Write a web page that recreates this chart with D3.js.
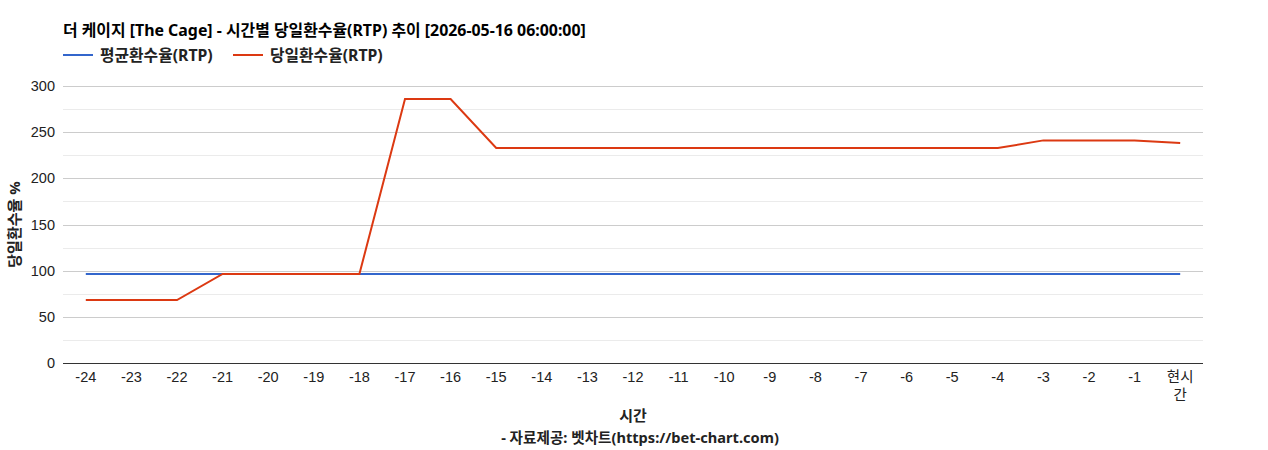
<!DOCTYPE html>
<html>
<head>
<meta charset="utf-8">
<script src="https://cdn.jsdelivr.net/npm/d3@7"></script>
<style>
  body { margin: 0; background: #fff; }
  text { font-family: Arial, "Liberation Sans", "Noto Sans CJK KR", sans-serif; }
  .bold { font-family: "Noto Sans", "Noto Sans CJK KR", sans-serif; font-weight: bold; }
</style>
</head>
<body>
<script>
var hours = ["-24","-23","-22","-21","-20","-19","-18","-17","-16","-15","-14","-13",
             "-12","-11","-10","-9","-8","-7","-6","-5","-4","-3","-2","-1","현시간"];
var avgRtp = [96.4,96.4,96.4,96.4,96.4,96.4,96.4,96.4,96.4,96.4,96.4,96.4,
              96.4,96.4,96.4,96.4,96.4,96.4,96.4,96.4,96.4,96.4,96.4,96.4,96.4];
var dayRtp = [68.2,68.2,68.2,96.4,96.4,96.4,96.4,285.9,285.9,232.8,232.8,232.8,
              232.8,232.8,232.8,232.8,232.8,232.8,232.8,232.8,232.8,241.1,241.1,241.1,238.3];
var yTicks = [0,50,100,150,200,250,300];

(function() {
    var W = 1268, H = 450;
    var pLeft = 63, pRight = 1203, pTop = 86, pBottom = 363;

    var svg = d3.select("body").append("svg")
        .attr("width", W)
        .attr("height", H);

    var x = d3.scalePoint().domain(hours).range([pLeft, pRight]).padding(0.5);
    var y = d3.scaleLinear().domain([0, 300]).range([pBottom, pTop]);

    // minor gridlines
    svg.selectAll(".minor")
        .data(d3.range(25, 300, 50))
        .enter().append("line")
        .attr("x1", pLeft).attr("x2", pRight)
        .attr("y1", function(d) { return Math.round(y(d)) + 0.5; })
        .attr("y2", function(d) { return Math.round(y(d)) + 0.5; })
        .style("stroke", "#ebebeb");

    // major gridlines
    svg.selectAll(".major")
        .data(yTicks.slice(1))
        .enter().append("line")
        .attr("x1", pLeft).attr("x2", pRight)
        .attr("y1", function(d) { return Math.round(y(d)) + 0.5; })
        .attr("y2", function(d) { return Math.round(y(d)) + 0.5; })
        .style("stroke", "#cccccc");

    // y labels
    svg.selectAll(".ylab")
        .data(yTicks)
        .enter().append("text")
        .attr("x", pLeft - 8)
        .attr("y", function(d) { return y(d) + 5; })
        .attr("text-anchor", "end")
        .style("font-size", "14.5px")
        .style("fill", "#222")
        .text(function(d) { return d; });

    // x labels
    hours.forEach(function(h) {
        var t = svg.append("text")
            .attr("x", x(h))
            .attr("y", 382)
            .attr("text-anchor", "middle")
            .style("font-size", "14.5px")
            .style("fill", "#222");
        if (h === "현시간") {
            t.append("tspan").attr("x", x(h)).attr("dy", 0).text("현시");
            t.append("tspan").attr("x", x(h)).attr("dy", 18).text("간");
        } else {
            t.text(h);
        }
    });

    var line = d3.line()
        .x(function(d, i) { return x(hours[i]); })
        .y(function(d) { return y(d); });

    svg.append("path")
        .datum(avgRtp)
        .attr("d", line)
        .style("fill", "none")
        .style("stroke", "#3366cc")
        .style("stroke-width", 2);

    svg.append("path")
        .datum(dayRtp)
        .attr("d", line)
        .style("fill", "none")
        .style("stroke", "#dc3912")
        .style("stroke-width", 2);

    // baseline
    svg.append("line")
        .attr("x1", pLeft).attr("x2", pRight)
        .attr("y1", Math.round(y(0)) + 0.5).attr("y2", Math.round(y(0)) + 0.5)
        .style("stroke", "#333");

    // title
    svg.append("text")
        .attr("class", "bold")
        .attr("x", pLeft)
        .attr("y", 36)
        .style("font-size", "15.9px")
        .style("fill", "#000")
        .text("더 케이지 [The Cage] - 시간별 당일환수율(RTP) 추이 [2026-05-16 06:00:00]");

    // legend
    var legend = [["평균환수율(RTP)", "#3366cc", 63], ["당일환수율(RTP)", "#dc3912", 233]];
    legend.forEach(function(l) {
        svg.append("line")
            .attr("x1", l[2]).attr("x2", l[2] + 30)
            .attr("y1", 55).attr("y2", 55)
            .style("stroke", l[1])
            .style("stroke-width", 2);
        svg.append("text")
            .attr("class", "bold")
            .attr("x", l[2] + 37)
            .attr("y", 60.5)
            .style("font-size", "15.8px")
            .style("fill", "#222")
            .text(l[0]);
    });

    // axis titles
    svg.append("text")
        .attr("class", "bold")
        .attr("transform", "translate(20," + ((pTop + pBottom) / 2) + ") rotate(-90)")
        .attr("text-anchor", "middle")
        .style("font-size", "15px")
        .style("fill", "#222")
        .text("당일환수율 %");

    svg.append("text")
        .attr("class", "bold")
        .attr("x", 633)
        .attr("y", 421)
        .attr("text-anchor", "middle")
        .style("font-size", "15px")
        .style("fill", "#222")
        .text("시간");

    svg.append("text")
        .attr("class", "bold")
        .attr("x", 640)
        .attr("y", 443)
        .attr("text-anchor", "middle")
        .style("font-size", "14.6px")
        .style("fill", "#222")
        .text("- 자료제공: 벳차트(https://bet-chart.com)");
})();
</script>
</body>
</html>
